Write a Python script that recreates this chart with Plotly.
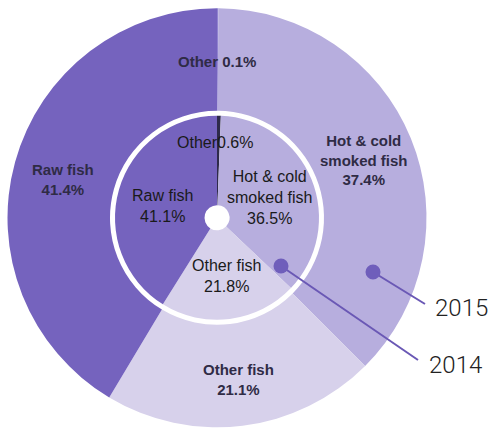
import plotly.graph_objects as go

# ---- data ----
categories = ["Other", "Hot & cold smoked fish", "Other fish", "Raw fish"]
label_lines = ["Other", "Hot & cold<br>smoked fish", "Other fish", "Raw fish"]
values_2015 = [0.1, 37.4, 21.1, 41.4]
values_2014 = [0.6, 36.5, 21.8, 41.1]
year_labels = ["2015", "2014"]

colors_outer = ["#8F82CF", "#B7AEDE", "#D7D1EB", "#7563BE"]
colors_inner = ["#2E2A4A", "#B7AEDE", "#D7D1EB", "#7563BE"]

W, H = 489, 428
CX, CY = 217.0, 217.8
R_OUT, R_OUT_HOLE = 209.5, 107.0
R_IN, R_IN_HOLE = 102.0, 12.5


def px(x):
    return x / W


def py(y):
    return 1 - y / H


def domain(r):
    return dict(x=[px(CX - r), px(CX + r)], y=[py(CY + r), py(CY - r)])


fig = go.Figure()
fig.add_trace(go.Pie(
    labels=categories, values=values_2015, sort=False, direction="clockwise",
    rotation=0, hole=R_OUT_HOLE / R_OUT, domain=domain(R_OUT),
    marker=dict(colors=colors_outer, line=dict(width=0)),
    textinfo="none", hoverinfo="skip", showlegend=False,
))
fig.add_trace(go.Pie(
    labels=categories, values=values_2014, sort=False, direction="clockwise",
    rotation=0, hole=R_IN_HOLE / R_IN, domain=domain(R_IN),
    marker=dict(colors=colors_inner, line=dict(width=0)),
    textinfo="none", hoverinfo="skip", showlegend=False,
))

# label positions (pixel coords of text block centers)
outer_pos = [(217, 62), (364, 160), (238, 379), (63, 180)]
inner_pos = [(215, 142), (269, 197), (226, 276), (162, 206)]

annotations = []
for i, (x, y) in enumerate(outer_pos):
    if i == 0:
        txt = f"{label_lines[i]} {values_2015[i]}%"
    else:
        txt = f"{label_lines[i]}<br>{values_2015[i]}%"
    annotations.append(dict(
        x=px(x), y=py(y), xref="paper", yref="paper", text=txt, showarrow=False,
        xanchor="center", yanchor="middle",
        font=dict(family="Liberation Sans, Arial", size=15, color="#2F2B45", weight="bold"),
    ))
for i, (x, y) in enumerate(inner_pos):
    if i == 0:
        txt = f"{label_lines[i]}{values_2014[i]}%"
    else:
        txt = f"{label_lines[i]}<br>{values_2014[i]}%"
    annotations.append(dict(
        x=px(x), y=py(y), xref="paper", yref="paper", text=txt, showarrow=False,
        xanchor="center", yanchor="middle",
        font=dict(family="Liberation Sans, Arial", size=16, color="#1A1A1A"),
    ))

# year callouts: dot, line end, text left/center
callouts = [((373, 272), (425, 304), (433, 308)), ((281, 266), (418, 360), (427, 365))]
shapes = []
LINE_C = "#6A58B5"
for (dot, end, tpos), yl in zip(callouts, year_labels):
    shapes.append(dict(type="line", xref="paper", yref="paper",
                       x0=px(dot[0]), y0=py(dot[1]), x1=px(end[0]), y1=py(end[1]),
                       line=dict(color=LINE_C, width=2)))
    rr = 7.5
    shapes.append(dict(type="circle", xref="paper", yref="paper",
                       x0=px(dot[0] - rr), x1=px(dot[0] + rr),
                       y0=py(dot[1] + rr), y1=py(dot[1] - rr),
                       fillcolor="#6F5EBB", line=dict(width=0)))
    annotations.append(dict(
        x=px(tpos[0]), y=py(tpos[1]), xref="paper", yref="paper", text=yl,
        showarrow=False, xanchor="left", yanchor="middle",
        font=dict(family="Roboto, Liberation Sans", size=24, color="#222222", weight=300),
    ))

fig.update_layout(
    width=W, height=H, margin=dict(l=0, r=0, t=0, b=0),
    paper_bgcolor="white", plot_bgcolor="white",
    annotations=annotations, shapes=shapes,
)

fig.write_html("out.html")
